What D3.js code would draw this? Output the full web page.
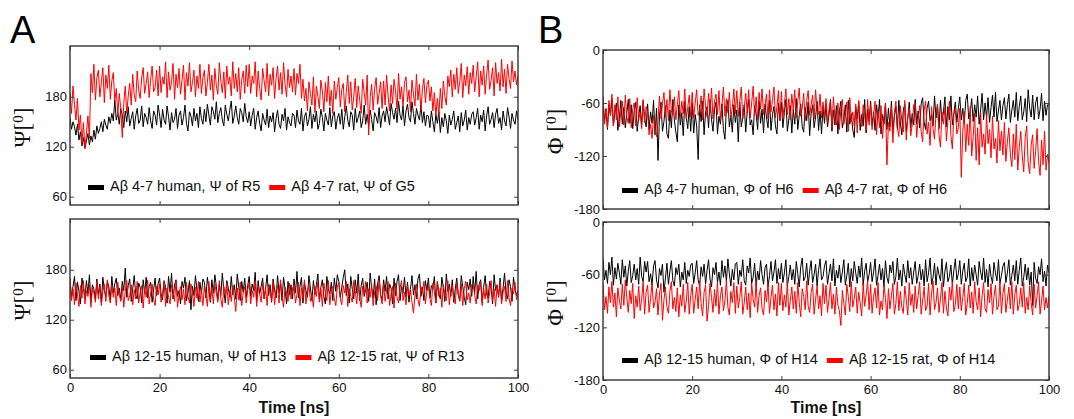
<!DOCTYPE html>
<html>
<head>
<meta charset="utf-8">
<script src="https://d3js.org/d3.v7.min.js"></script>
<title>Dihedral angles</title>
<style>
  body { margin: 0; background: #fff; }
  text { font-family: "Liberation Sans", Arial, sans-serif; }
</style>
</head>
<body>
<div id="chart"></div>
<script>
// trajectories are 100 ns long, samples evenly spaced
const tEnd = 100;
const timeTicks = [0, 20, 40, 60, 80, 100];
const psiTicks = [60, 120, 180];
const phiTicks = [0, -60, -120, -180];

// A top: Ψ of R5 (human) / G5 (rat), Aβ 4-7
const psiHumanR5 = [
  155,141,150,144,134,147,128,138,121,131,118,127,136,122,133,126,140,129,145,136,142,150,138,153,146,141,156,148,160,151,
  176,152,161,147,166,158,143,163,150,168,145,154,162,141,157,166,148,152,169,144,160,155,147,167,151,142,163,158,146,170,
  158,143,165,152,147,169,156,140,161,149,153,166,142,158,163,146,155,170,148,139,162,157,145,166,151,160,143,168,154,147,
  165,150,171,158,146,168,162,153,174,149,160,167,152,145,170,159,151,164,175,148,157,169,155,147,166,161,150,172,156,149,
  162,145,158,166,141,155,163,148,139,160,152,146,165,143,157,150,161,138,154,164,147,142,159,151,166,140,156,149,145,160,
  158,143,164,151,147,166,139,156,161,145,153,168,142,159,150,163,141,148,165,155,139,160,152,146,167,144,157,162,141,154,
  160,147,165,141,156,169,152,144,162,158,140,166,149,155,163,143,151,170,147,159,145,164,153,139,161,156,148,167,143,157,
  163,150,168,157,146,172,161,153,166,149,175,158,152,169,145,163,171,155,150,174,160,147,166,158,152,170,149,162,145,158,
  157,143,163,150,138,159,148,162,137,155,144,160,151,136,158,146,153,163,141,149,157,138,161,145,152,164,140,155,147,159,
  162,146,155,166,141,158,150,164,139,157,168,147,153,161,143,159,166,148,155,140,163,151,145,167,156,142,160,152,147,163,
  152];
const psiRatG5 = [
  186,160,193,171,152,178,140,158,124,149,118,136,157,130,208,185,219,176,203,212,180,197,215,173,206,190,218,177,199,209,
  175,190,158,184,166,131,172,193,160,181,196,170,207,182,174,211,188,178,203,215,184,196,210,179,200,217,186,191,212,181,
  217,185,204,195,222,179,210,188,198,220,177,207,191,214,183,200,218,176,209,193,221,186,197,212,180,205,190,219,184,203,
  212,181,197,219,188,206,176,214,193,183,221,199,185,210,178,217,195,204,181,222,190,208,186,215,177,200,211,184,218,192,
  219,184,205,196,222,180,211,190,176,214,199,186,220,181,207,194,215,178,202,217,188,209,183,221,195,180,213,191,205,186,
  214,182,208,196,219,178,201,175,190,163,198,184,170,204,161,193,180,166,200,187,162,197,174,205,169,188,160,199,177,191,
  203,168,189,196,162,185,206,172,198,164,180,202,167,193,176,160,201,185,170,206,134,179,195,164,190,203,171,184,198,166,
  199,170,206,181,163,194,172,201,186,165,208,177,192,168,197,204,174,188,162,200,183,169,207,176,195,163,189,202,173,194,
  200,175,192,163,185,157,178,158,190,166,199,181,170,205,192,212,180,207,189,215,184,198,220,179,206,193,216,183,209,196,
  218,186,204,222,180,211,194,217,183,207,224,189,200,215,181,221,196,209,187,225,192,213,184,219,202,190,223,198,211,194,
  206];

// A bottom: Ψ of H13 (human) / R13 (rat), Aβ 12-15
const psiHumanH13 = [
  168,147,160,172,143,165,154,139,170,158,146,167,151,174,141,162,157,145,169,150,163,141,171,155,148,166,160,143,172,152,
  163,170,149,158,144,166,155,182,147,161,169,142,157,173,150,145,164,159,140,168,152,171,146,160,165,141,156,170,149,163,
  170,151,144,167,159,140,172,153,176,145,162,168,148,155,139,166,158,171,143,152,167,132,160,149,173,156,142,165,151,169,
  165,146,171,157,141,168,152,174,160,144,163,149,176,155,140,167,158,147,172,150,162,145,175,159,143,166,153,170,147,161,
  172,148,163,155,177,142,167,151,160,170,145,158,174,149,162,141,169,156,146,173,152,164,143,171,157,139,166,150,162,145,
  169,152,178,146,160,171,140,164,155,147,173,158,143,167,150,162,175,144,159,168,148,139,172,157,151,165,143,170,154,174,
  166,147,159,171,180,149,163,140,172,157,145,168,152,175,143,161,170,148,156,165,142,176,158,146,169,138,163,173,150,144,
  168,154,172,145,163,158,139,170,149,166,174,143,160,152,171,147,165,141,157,173,150,162,145,169,175,148,159,143,167,155,
  170,146,161,157,172,140,166,151,145,171,159,142,175,154,163,148,168,141,157,170,150,144,173,160,147,138,165,156,169,148,
  172,152,178,145,163,168,141,159,173,150,146,166,157,139,174,155,162,147,170,143,158,176,151,145,168,160,142,171,156,149,
  155];
const psiRatR13 = [
  170,143,157,138,164,150,136,161,146,167,139,155,148,163,135,158,152,141,166,145,160,137,154,163,142,168,149,140,161,147,
  158,137,165,150,142,160,135,154,167,143,149,162,138,156,145,166,140,153,161,134,158,147,168,139,152,163,144,137,160,150,
  163,141,152,166,136,158,147,139,162,155,142,167,135,150,160,144,157,138,165,148,140,163,153,136,159,146,166,141,155,137,
  161,148,136,166,143,157,139,163,152,141,167,145,135,160,150,164,138,155,142,161,147,130,158,144,165,137,153,160,140,156,
  164,139,155,147,167,136,160,150,141,165,145,158,137,163,152,143,166,138,156,161,140,168,148,135,159,153,142,164,145,157,
  162,140,151,165,137,158,146,168,139,154,163,142,150,135,160,148,166,141,157,136,164,152,143,167,138,155,160,145,137,159,
  165,145,138,161,152,166,136,157,148,141,167,155,139,162,146,135,160,151,166,140,157,147,163,137,154,161,143,168,149,139,
  163,142,156,166,137,151,160,134,164,147,140,158,167,143,153,138,162,149,157,141,128,150,163,144,136,160,152,166,139,155,
  161,146,137,164,153,140,166,148,158,135,162,151,143,167,138,156,161,145,139,165,150,142,163,137,157,166,144,152,140,162,
  164,149,139,161,155,166,137,158,145,163,140,152,167,143,157,136,161,148,165,139,153,160,142,167,146,137,158,151,165,144,
  150];

// B top: Φ of H6, Aβ 4-7
const phiHumanH6 = [
  -58,-81,-67,-90,-62,-74,-55,-86,-70,-60,-91,-77,-57,-84,-65,-88,-72,-56,-83,-62,-89,-69,-59,-92,-75,-63,-85,-58,-78,-87,
  -61,-90,-70,-83,-57,-96,-66,-125,-74,-59,-92,-81,-63,-95,-100,-68,-88,-56,-79,-93,-104,-62,-85,-71,-97,-58,-76,-89,-64,-92,
  -60,-94,-73,-86,-124,-62,-81,-58,-96,-70,-64,-88,-56,-79,-92,-67,-59,-95,-75,-84,-61,-90,-101,-66,-57,-87,-74,-93,-62,-82,
  -68,-104,-59,-87,-76,-62,-93,-70,-56,-85,-79,-96,-63,-72,-90,-58,-83,-67,-94,-61,-77,-88,-57,-91,-73,-64,-86,-95,-60,-80,
  -59,-88,-71,-56,-92,-78,-63,-94,-67,-84,-55,-90,-74,-61,-87,-93,-65,-80,-59,-97,-72,-62,-88,-76,-58,-91,-69,-95,-64,-83,
  -61,-87,-74,-56,-92,-68,-85,-63,-95,-70,-58,-88,-79,-62,-93,-57,-84,-72,-90,-99,-64,-78,-59,-91,-73,-86,-56,-94,-67,-81,
  -58,-86,-70,-91,-62,-77,-56,-95,-73,-84,-60,-90,-66,-87,-58,-93,-75,-64,-89,-57,-82,-96,-68,-61,-92,-78,-59,-88,-72,-85,
  -56,-84,-69,-88,-61,-54,-82,-90,-66,-58,-80,-73,-86,-52,-77,-63,-89,-57,-81,-70,-53,-87,-64,-79,-52,-85,-71,-59,-82,-66,
  -53,-79,-66,-83,-57,-50,-78,-70,-55,-81,-62,-76,-52,-84,-68,-49,-79,-60,-77,-54,-82,-65,-51,-76,-48,-81,-69,-57,-79,-63,
  -54,-78,-62,-50,-82,-68,-57,-76,-48,-80,-64,-52,-79,-70,-55,-81,-45,-66,-76,-51,-79,-60,-53,-78,-67,-49,-80,-58,-74,-62,
  -62];
const phiRatH6 = [
  -52,-84,-66,-88,-57,-74,-50,-86,-62,-79,-53,-87,-70,-58,-85,-51,-76,-83,-55,-88,-67,-60,-86,-54,-79,-71,-89,-56,-82,-64,
  -70,-96,-84,-100,-74,-89,-98,-80,-52,-78,-61,-48,-76,-56,-80,-45,-69,-74,-53,-79,-62,-46,-77,-58,-72,-44,-78,-65,-51,-76,
  -48,-77,-60,-45,-74,-68,-52,-79,-44,-64,-76,-49,-71,-43,-78,-58,-50,-73,-46,-80,-62,-42,-75,-55,-71,-48,-77,-65,-44,-72,
  -46,-75,-58,-42,-78,-66,-49,-72,-45,-77,-60,-41,-74,-53,-79,-48,-67,-44,-73,-62,-50,-78,-45,-70,-57,-42,-77,-64,-46,-80,
  -47,-76,-61,-44,-73,-55,-79,-50,-68,-45,-77,-58,-43,-75,-66,-49,-80,-57,-46,-74,-62,-51,-78,-45,-69,-73,-50,-77,-59,-75,
  -55,-82,-68,-58,-88,-53,-76,-85,-60,-90,-67,-56,-84,-74,-59,-92,-54,-81,-70,-86,-61,-94,-57,-78,-87,-62,-73,-91,-56,-85,
  -61,-90,-74,-58,-96,-69,-88,-63,-100,-77,-60,-130,-82,-92,-64,-105,-71,-58,-89,-98,-63,-80,-93,-57,-102,-75,-66,-97,-84,-62,
  -60,-99,-77,-63,-92,-104,-68,-58,-95,-82,-108,-64,-89,-101,-72,-61,-96,-110,-70,-84,-65,-103,-79,-58,-97,-112,-73,-66,-95,-88,
  -66,-144,-92,-70,-115,-84,-108,-64,-120,-98,-72,-125,-88,-130,-71,-110,-95,-118,-73,-106,-90,-122,-75,-112,-100,-128,-80,-114,-92,-119,
  -82,-126,-104,-88,-118,-132,-95,-124,-84,-136,-110,-92,-120,-138,-99,-86,-128,-140,-108,-96,-134,-115,-89,-126,-142,-102,-130,-92,-136,-118,
  -128];

// B bottom: Φ of H14, Aβ 12-15
const phiHumanH14 = [
  -42,-66,-55,-70,-46,-60,-40,-72,-52,-65,-47,-58,-71,-43,-63,-50,-73,-56,-44,-69,-61,-48,-66,-53,-71,-40,-62,-68,-45,-57,
  -45,-68,-59,-72,-50,-44,-66,-75,-53,-61,-48,-80,-64,-47,-71,-56,-44,-67,-73,-52,-60,-48,-74,-57,-66,-46,-70,-55,-62,-49,
  -47,-70,-58,-44,-66,-73,-51,-62,-48,-71,-55,-43,-65,-74,-52,-60,-46,-69,-57,-72,-44,-63,-50,-68,-42,-59,-73,-54,-66,-48,
  -46,-71,-55,-62,-43,-67,-72,-50,-58,-41,-70,-63,-47,-73,-56,-66,-44,-60,-71,-52,-48,-74,-61,-45,-67,-57,-43,-70,-53,-65,
  -47,-69,-58,-43,-73,-62,-49,-66,-54,-71,-45,-59,-74,-51,-41,-67,-63,-47,-72,-56,-44,-69,-60,-48,-73,-55,-42,-66,-62,-50,
  -44,-71,-59,-48,-67,-42,-73,-55,-64,-49,-69,-57,-43,-72,-61,-47,-74,-53,-67,-45,-58,-70,-50,-63,-41,-72,-56,-47,-68,-60,
  -46,-68,-57,-42,-72,-61,-48,-66,-53,-74,-44,-63,-70,-49,-58,-45,-71,-62,-41,-66,-55,-73,-48,-60,-69,-44,-64,-52,-71,-57,
  -45,-70,-61,-48,-66,-54,-73,-43,-68,-58,-41,-71,-63,-47,-72,-51,-60,-67,-42,-74,-56,-46,-68,-62,-49,-71,-55,-42,-66,-59,
  -44,-71,-56,-47,-68,-63,-42,-73,-52,-67,-49,-60,-72,-45,-57,-66,-41,-69,-54,-74,-48,-62,-70,-46,-58,-67,-43,-70,-61,-50,
  -46,-69,-58,-43,-72,-61,-49,-67,-44,-71,-55,-41,-73,-63,-48,-66,-52,-72,-57,-95,-46,-64,-70,-51,-60,-42,-68,-56,-73,-49,
  -58];
const phiRatH14 = [
  -70,-100,-85,-104,-74,-92,-68,-97,-81,-108,-75,-89,-99,-71,-95,-66,-86,-103,-78,-93,-70,-110,-84,-97,-73,-101,-88,-68,-105,-80,
  -72,-103,-87,-69,-98,-91,-76,-106,-82,-70,-112,-89,-74,-97,-104,-79,-68,-99,-86,-102,-75,-108,-83,-96,-71,-103,-90,-69,-105,-84,
  -71,-104,-88,-74,-99,-67,-93,-107,-80,-72,-113,-95,-70,-86,-103,-77,-96,-68,-105,-84,-74,-101,-90,-66,-97,-106,-79,-92,-69,-104,
  -73,-98,-86,-68,-105,-92,-74,-100,-81,-109,-70,-88,-97,-67,-103,-84,-75,-99,-106,-78,-91,-70,-104,-86,-72,-100,-82,-107,-69,-95,
  -70,-101,-83,-97,-68,-106,-89,-74,-99,-79,-104,-69,-92,-108,-76,-85,-100,-67,-96,-103,-80,-71,-105,-88,-73,-99,-84,-107,-70,-93,
  -72,-103,-88,-69,-99,-82,-105,-74,-95,-101,-118,-78,-93,-106,-71,-85,-102,-68,-97,-87,-74,-104,-80,-92,-107,-70,-96,-83,-67,-100,
  -71,-104,-85,-75,-98,-69,-106,-90,-100,-72,-87,-110,-76,-99,-84,-70,-105,-93,-68,-101,-79,-97,-104,-73,-88,-106,-69,-95,-82,-103,
  -73,-99,-84,-68,-105,-90,-74,-101,-96,-70,-106,-81,-67,-100,-92,-75,-103,-87,-69,-104,-79,-98,-107,-74,-89,-68,-102,-94,-71,-99,
  -74,-101,-86,-70,-106,-93,-72,-98,-80,-104,-68,-91,-100,-75,-108,-84,-69,-99,-103,-77,-92,-70,-105,-85,-72,-100,-96,-68,-104,-82,
  -70,-103,-89,-74,-99,-68,-105,-83,-72,-101,-94,-75,-97,-69,-104,-86,-100,-73,-92,-106,-71,-98,-84,-68,-105,-90,-73,-100,-86,-98,
  -84];

const colors = ["#000000", "#ff0000"];

// panel layout
const panels = [
  { left: 70, right: 518, top: 46, bottom: 205, domain: [50, 241], ticks: psiTicks,
    series: [psiHumanR5, psiRatG5], ang: "Ψ", gap: "",
    legend: ["Aβ 4-7 human, Ψ of R5", "Aβ 4-7 rat, Ψ of G5"], lx: 88, ly: 191, xLabels: false },
  { left: 70, right: 518, top: 219, bottom: 378, domain: [50, 241], ticks: psiTicks,
    series: [psiHumanH13, psiRatR13], ang: "Ψ", gap: "",
    legend: ["Aβ 12-15 human, Ψ of H13", "Aβ 12-15 rat, Ψ of R13"], lx: 90, ly: 361, xLabels: true },
  { left: 603, right: 1049, top: 50, bottom: 209, domain: [-180, 0], ticks: phiTicks,
    series: [phiHumanH6, phiRatH6], ang: "Φ", gap: " ",
    legend: ["Aβ 4-7 human, Φ of H6", "Aβ 4-7 rat, Φ of H6"], lx: 622, ly: 194, xLabels: false },
  { left: 603, right: 1049, top: 222, bottom: 380, domain: [-180, 0], ticks: phiTicks,
    series: [phiHumanH14, phiRatH14], ang: "Φ", gap: " ",
    legend: ["Aβ 12-15 human, Φ of H14", "Aβ 12-15 rat, Φ of H14"], lx: 622, ly: 364, xLabels: true }
];

const svg = d3.select("#chart")
  .append("svg")
    .attr("width", 1074)
    .attr("height", 419);

panels.forEach((p, pi) => {
  const x = d3.scaleLinear().domain([0, tEnd]).range([p.left, p.right]);
  const y = d3.scaleLinear().domain(p.domain).range([p.bottom, p.top]);
  const g = svg.append("g");

  g.append("clipPath").attr("id", "clip" + pi)
    .append("rect")
      .attr("x", p.left).attr("y", p.top)
      .attr("width", p.right - p.left).attr("height", p.bottom - p.top);

  p.series.forEach((s, k) => {
    const line = d3.line()
      .x((d, i) => x(i * tEnd / (s.length - 1)))
      .y(d => y(d));
    g.append("path")
      .datum(s)
      .attr("clip-path", `url(#clip${pi})`)
      .attr("fill", "none")
      .attr("stroke", colors[k])
      .attr("stroke-width", 1)
      .attr("d", line);
  });

  // axes, ticks pointing inwards on all four sides
  const fmt = d => String(d);
  const axes = [
    g.append("g").attr("transform", `translate(${p.left},0)`)
      .call(d3.axisLeft(y).tickValues(p.ticks).tickSize(-4).tickPadding(3).tickFormat(fmt)),
    g.append("g").attr("transform", `translate(${p.right},0)`)
      .call(d3.axisRight(y).tickValues(p.ticks).tickSize(-4).tickFormat("")),
    g.append("g").attr("transform", `translate(0,${p.top})`)
      .call(d3.axisTop(x).tickValues(timeTicks).tickSize(-4).tickFormat("")),
    g.append("g").attr("transform", `translate(0,${p.bottom})`)
      .call(d3.axisBottom(x).tickValues(timeTicks).tickSize(-4).tickPadding(5)
        .tickFormat(p.xLabels ? fmt : ""))
  ];
  axes.forEach(a => {
    a.select(".domain").remove();
    a.selectAll(".tick line").attr("stroke", "#444");
    a.selectAll(".tick text")
      .attr("fill", "#111")
      .style("font-size", "13px")
      .style("font-family", "'Liberation Sans', Arial, sans-serif");
  });

  // frame
  g.append("rect")
    .attr("x", p.left).attr("y", p.top)
    .attr("width", p.right - p.left).attr("height", p.bottom - p.top)
    .attr("fill", "none")
    .attr("stroke", "#333")
    .attr("stroke-width", 1.4);

  // y axis title, e.g. Ψ[0]
  const cy = (p.top + p.bottom) / 2 + 2;
  const yt = g.append("text")
    .attr("transform", `translate(${p.left - 40},${cy}) rotate(-90)`)
    .attr("text-anchor", "middle")
    .style("font-family", "'Liberation Serif', 'Times New Roman', serif")
    .style("font-size", "23px")
    .attr("fill", "#111");
  yt.append("tspan").text(p.ang + p.gap + "[");
  yt.append("tspan").attr("dy", -7).style("font-size", "15px").text("0");
  yt.append("tspan").attr("dy", 7).text("]");

  // legend
  const lg = g.append("g");
  lg.append("rect").attr("x", p.lx).attr("y", p.ly - 6)
    .attr("width", 16).attr("height", 5).attr("fill", colors[0]);
  const t1 = lg.append("text").attr("x", p.lx + 22).attr("y", p.ly)
    .style("font-size", "14.5px").attr("fill", "#111").text(p.legend[0]);
  const x2 = p.lx + 22 + t1.node().getComputedTextLength() + 9;
  lg.append("rect").attr("x", x2).attr("y", p.ly - 6)
    .attr("width", 16).attr("height", 5).attr("fill", colors[1]);
  lg.append("text").attr("x", x2 + 22).attr("y", p.ly)
    .style("font-size", "14.5px").attr("fill", "#111").text(p.legend[1]);

  // x axis title
  if (p.xLabels) {
    g.append("text")
      .attr("x", (p.left + p.right) / 2)
      .attr("y", 413)
      .attr("text-anchor", "middle")
      .style("font-size", "16px")
      .style("font-weight", "bold")
      .attr("fill", "#111")
      .text("Time [ns]");
  }
});

// panel letters
svg.append("text").attr("x", 10).attr("y", 43)
  .style("font-size", "38px").attr("fill", "#000").text("A");
svg.append("text").attr("x", 538).attr("y", 43)
  .style("font-size", "38px").attr("fill", "#000").text("B");
</script>
</body>
</html>
